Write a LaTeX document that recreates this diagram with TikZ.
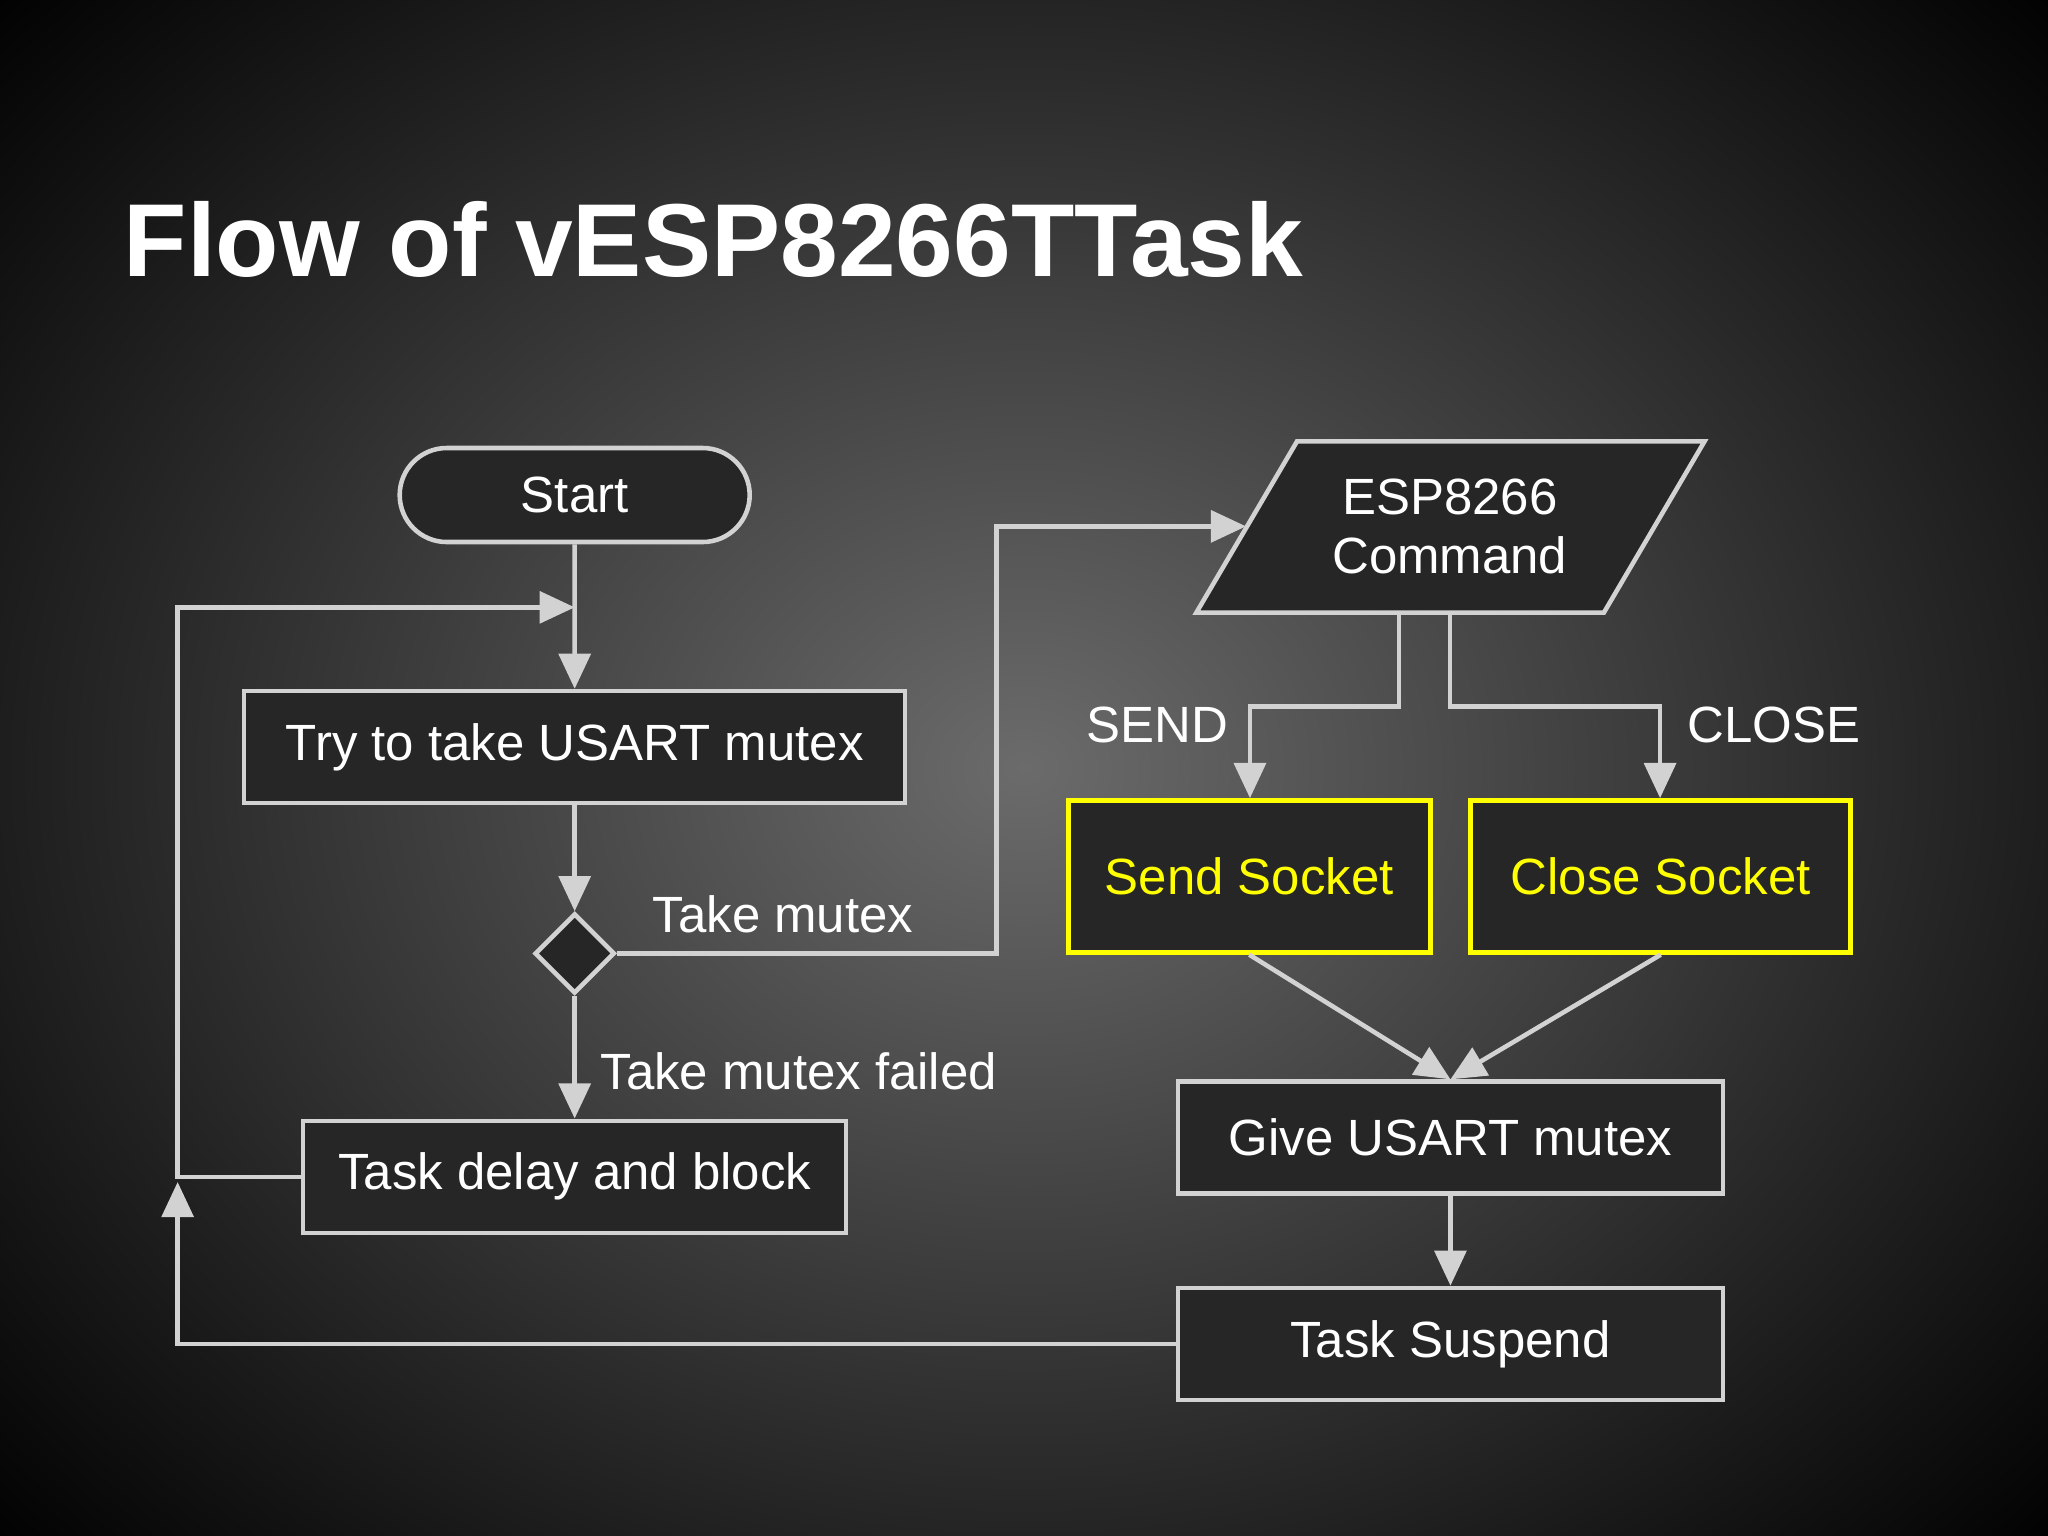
\documentclass[tikz,border=0pt]{standalone}
\usepackage{fontspec}
\setmainfont{Liberation Sans}
\usetikzlibrary{shapes.geometric,shapes.misc,arrows.meta}
\definecolor{ln}{HTML}{D2D2D2}
\definecolor{yl}{HTML}{FFFF00}
\definecolor{bx}{HTML}{262626}
\begin{document}
\begin{tikzpicture}[x=0.013061cm,y=-0.013061cm,
  line width=1.3pt,
  box/.style={draw=ln,fill=bx,text=white,rectangle,inner sep=0pt,font=\fontsize{14.5}{17}\selectfont},
  ybox/.style={box,draw=yl,text=yl},
  lbl/.style={text=white,font=\fontsize{14.5}{17}\selectfont,inner sep=0pt},
  arr/.style={draw=ln,-{Triangle[length=10pt,width=9pt,fill=ln]}},
  con/.style={draw=ln}]
\useasboundingbox (0,0) rectangle (1568,1176);
\shade[inner color=black!58!white, outer color=black] (-300,-300) rectangle (1868,1476);
\node[anchor=west,text=white,font=\bfseries\fontsize{29.5}{34}\selectfont,inner sep=0pt] (title) at (93,183) {Flow of vESP8266TTask};

\node[box,rounded rectangle,minimum width=3.5cm,minimum height=0.94cm] (start) at (440,379) {Start};
\node[box,minimum width=6.61cm,minimum height=1.12cm] (try) at (440,572) {Try to take USART mutex};
\node[box,diamond,minimum width=0.8cm,minimum height=0.8cm] (dia) at (440,730) {};
\node[box,minimum width=5.43cm,minimum height=1.12cm] (delay) at (440,901) {Task delay and block};
\draw[ln,fill=bx] (993,338) -- (1305,338) -- (1228,469) -- (916,469) -- cycle;
\node[lbl,align=center] (esp) at (1110,403) {ESP8266\\Command};
\coordinate (espL) at (954,403);
\coordinate (espB1) at (1071,469);
\coordinate (espB2) at (1110,469);
\node[ybox,minimum width=3.62cm,minimum height=1.52cm] (send) at (956.5,671) {Send Socket};
\node[ybox,minimum width=3.80cm,minimum height=1.52cm] (close) at (1271.5,671) {Close Socket};
\node[box,minimum width=5.45cm,minimum height=1.12cm] (give) at (1110.5,871) {Give USART mutex};
\node[box,minimum width=5.45cm,minimum height=1.12cm] (susp) at (1110.5,1029) {Task Suspend};
\coordinate (loopin) at (440,465);

\draw[arr] (start) -- (try);
\draw[arr] (try) -- (dia);
\draw[arr] (dia) -- (delay);
\draw[arr] (delay.west) -- (136,901) -- (136,465) -- (loopin);
\draw[arr] (susp.west) -- (136,1029) -- (136,905);
\draw[arr] (dia.east) -- (763,730) -- (763,403) -- (espL);
\draw[arr] (espB1) -- (1071,541) -- (957,541) -- (send.north -| 957,541);
\draw[arr] (espB2) -- (1110,541) -- (1271,541) -- (close.north -| 1271,541);
\draw[arr] (send.south) -- (give.north);
\draw[arr] (close.south) -- (give.north);
\draw[arr] (give) -- (susp);

\node[lbl,anchor=west] (tm) at (498,700) {Take mutex};
\node[lbl,anchor=west] (tmf) at (458,820) {Take mutex failed};
\node[lbl] (sl) at (886,555) {SEND};
\node[lbl] (cl) at (1358,555) {CLOSE};
\end{tikzpicture}
\end{document}
